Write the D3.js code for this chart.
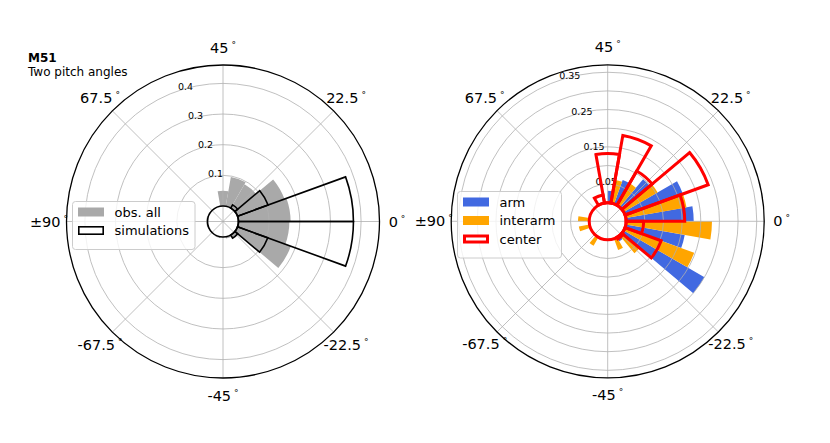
<!DOCTYPE html>
<html>
<head>
<meta charset="utf-8">
<script src="https://cdnjs.cloudflare.com/ajax/libs/d3/7.8.5/d3.min.js"></script>
<style>
body { margin: 0; background: #fff; }
text { font-family: "DejaVu Sans", sans-serif; }
</style>
</head>
<body>
<script>
// pitch angle bins (deg, 10 deg wide), drawn at twice the angle
var binCenters  = [-85, -75, -65, -55, -45, -35, -25, -15, -5, 5, 15, 25, 35, 45, 55, 65, 75, 85];
var obsAll      = [0.004, 0, 0, 0.004, 0, 0.006, 0.015, 0.185, 0.166, 0.17, 0.163, 0.09, 0.097, 0.05, 0, 0, 0, 0.004];
var simulations = [0, 0, 0, 0, 0, 0, 0.012, 0.105, 0.375, 0.375, 0.106, 0.012, 0, 0, 0, 0, 0, 0];
var arm         = [0, 0, 0, 0, 0, 0, 0.012, 0.25, 0.16, 0.181, 0.165, 0.098, 0.068, 0.032, 0, 0, 0, 0];
var interarm    = [0.029, 0, 0.026, 0, 0, 0.032, 0.062, 0.197, 0.23, 0.165, 0.105, 0.068, 0.063, 0, 0, 0, 0, 0.03];
var center      = [0, 0, 0, 0, 0, 0, 0.005, 0.103, 0.047, 0.157, 0.237, 0.106, 0.184, 0.132, 0.022, 0, 0, 0];

var thetaTicks  = [0, 22.5, 45, 67.5, 90, -67.5, -45, -22.5];
var thetaLabels = ["0", "22.5", "45", "67.5", "\u00b190", "-67.5", "-45", "-22.5"];
var leftRings   = [0.1, 0.2, 0.3, 0.4];
var rightRings  = [0.05, 0.1, 0.15, 0.2, 0.25, 0.3, 0.35];
var rightRingLabels = [0.05, 0.15, 0.25, 0.35];

var width = 830, height = 443, R = 156.5;
var rad = Math.PI / 180;

var svg = d3.select('body').append('svg').attr('width', width).attr('height', height);

// display angle (deg, ccw from east) -> d3 arc angle
function arcAng(d) { return (90 - d) * rad; }

function panel(cx, cy, rmax, hole)
{
  var g = svg.append('g').attr('transform', 'translate(' + cx + ',' + cy + ')');
  var r = d3.scaleLinear().domain([0, rmax]).range([hole, R]);
  g.append('g').attr('class', 'fills');
  g.append('g').attr('class', 'grid');
  g.append('g').attr('class', 'outlines');
  return {g: g, r: r};
}

function bars(p, values, half, style)
{
  var arc = d3.arc();
  p.g.select(style.stroke ? '.outlines' : '.fills').selectAll(null)
    .data(values.map(function(v, i) { return {v: v, c: binCenters[i]}; }).filter(function(d) { return d.v > 0; }))
    .enter().append('path')
    .attr('d', function(d) {
      var a0 = 2 * d.c - 10, a1 = 2 * d.c + 10;
      if (half == 'lo') a1 = 2 * d.c;
      if (half == 'hi') a0 = 2 * d.c;
      return arc({innerRadius: p.r(0), outerRadius: p.r(d.v), startAngle: arcAng(a1), endAngle: arcAng(a0)});
    })
    .attr('fill', style.fill)
    .attr('stroke', style.stroke || 'none')
    .attr('stroke-width', style.sw || 0)
    .attr('stroke-linejoin', 'miter');
}

function grid(p, rings, labels, holeColor, holeWidth)
{
  var gg = p.g.select('.grid');
  gg.selectAll(null).data(rings).enter().append('circle')
    .attr('r', function(d) { return p.r(d); })
    .attr('fill', 'none').attr('stroke', '#b0b0b0').attr('stroke-width', 0.8);
  gg.selectAll(null).data(thetaTicks).enter().append('line')
    .attr('x2', function(d) { return R * Math.cos(2 * d * rad); })
    .attr('y2', function(d) { return -R * Math.sin(2 * d * rad); })
    .attr('stroke', '#b0b0b0').attr('stroke-width', 0.8);
  gg.append('circle').attr('r', R).attr('fill', 'none').attr('stroke', '#000').attr('stroke-width', 1.3);
  p.g.select('.outlines').append('circle').attr('r', p.r(0)).attr('fill', 'none')
    .attr('stroke', holeColor).attr('stroke-width', holeWidth);

  var la = 109 * rad;
  gg.selectAll(null).data(labels).enter().append('text')
    .attr('x', function(d) { return p.r(d) * Math.cos(la); })
    .attr('y', function(d) { return -p.r(d) * Math.sin(la) - 1; })
    .attr('font-size', 9.5)
    .text(function(d) { return d; });

  var t = gg.selectAll(null).data(thetaTicks).enter().append('text')
    .attr('x', function(d) { return 174 * Math.cos(2 * d * rad); })
    .attr('y', function(d) { return -174 * Math.sin(2 * d * rad) + 5; })
    .attr('text-anchor', 'middle')
    .attr('font-size', 14.5);
  t.append('tspan').text(function(d, i) { return thetaLabels[i]; });
  t.append('tspan').attr('dx', 3).attr('dy', -5).attr('font-size', 9).text('\u00b0');
}

function legend(x, y, w, items)
{
  var lg = svg.append('g').attr('transform', 'translate(' + x + ',' + y + ')');
  lg.append('rect').attr('width', w).attr('height', 11 + items.length * 18.5)
    .attr('rx', 3).attr('fill', '#fff').attr('fill-opacity', 0.8)
    .attr('stroke', '#cccccc').attr('stroke-width', 1);
  items.forEach(function(it, i) {
    var yy = 10 + i * 18.5;
    lg.append('rect').attr('x', 5.5 + (it.sw || 0) / 2).attr('y', yy - 4 + (it.sw || 0) / 2)
      .attr('width', 26 - (it.sw || 0)).attr('height', 9 - (it.sw || 0))
      .attr('fill', it.fill).attr('stroke', it.stroke || 'none').attr('stroke-width', it.sw || 0);
    lg.append('text').attr('x', 42).attr('y', yy + 5).attr('font-size', 13).text(it.label);
  });
}

// left: observations vs simulations
var pl = panel(223, 221.5, 0.46, 15.5);
bars(pl, obsAll, null, {fill: '#a9a9a9'});
bars(pl, simulations, null, {fill: 'none', stroke: '#000', sw: 1.6});
grid(pl, leftRings, leftRings, '#000', 1.6);

// right: arm / interarm / center
var pr = panel(607.7, 221.3, 0.37, 18.5);
bars(pr, arm, 'lo', {fill: 'royalblue'});
bars(pr, interarm, 'hi', {fill: 'orange'});
bars(pr, center, null, {fill: 'none', stroke: 'red', sw: 3});
grid(pr, rightRings, rightRingLabels, 'red', 3);

legend(72.5, 201.5, 122.5, [
  {label: 'obs. all', fill: '#a9a9a9'},
  {label: 'simulations', fill: '#fff', stroke: '#000', sw: 1.6}
]);
legend(457.5, 191.5, 104, [
  {label: 'arm', fill: 'royalblue'},
  {label: 'interarm', fill: 'orange'},
  {label: 'center', fill: '#fff', stroke: 'red', sw: 3}
]);

svg.append('text').attr('x', 28).attr('y', 62).attr('font-size', 12).attr('font-weight', 'bold').text('M51');
svg.append('text').attr('x', 28).attr('y', 75.5).attr('font-size', 12).text('Two pitch angles');
</script>
</body>
</html>
